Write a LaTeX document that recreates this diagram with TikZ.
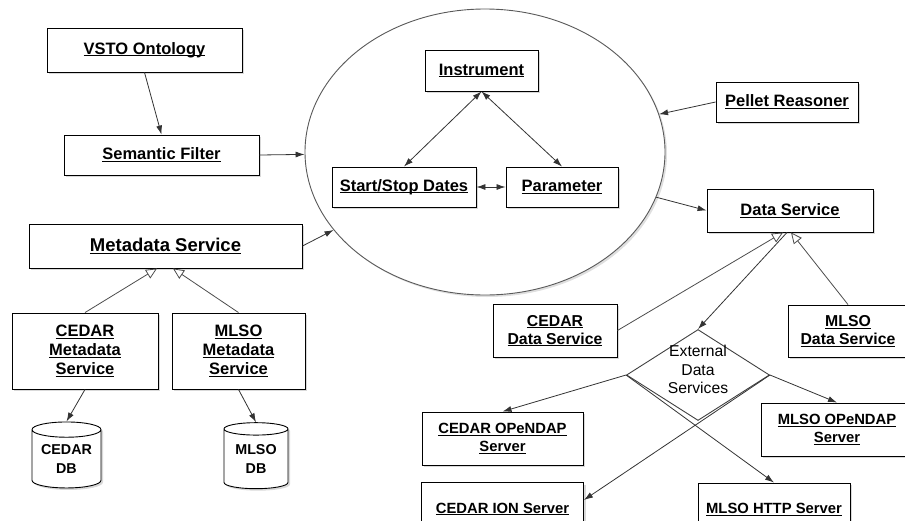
\documentclass[tikz,border=0pt]{standalone}
\usepackage{fontspec}
\setmainfont{Liberation Sans}
\usetikzlibrary{arrows.meta, positioning, shapes.geometric, shadows}

\newcommand{\udl}[1]{\setbox0\hbox{#1}\rlap{\rule[-2pt]{\wd0}{0.9pt}}\box0}

\tikzset{
  comp/.style={draw, fill=white, line width=0.9pt, align=center, inner sep=0pt,
    font=\fontsize{16.5}{19}\selectfont\bfseries,
    drop shadow={shadow xshift=2pt, shadow yshift=-2pt, opacity=0.3}},
  srv/.style={comp, font=\fontsize{14.8}{18}\selectfont\bfseries},
  dsv/.style={comp, font=\fontsize{15.8}{18}\selectfont\bfseries},
  db/.style={cylinder, shape border rotate=90, aspect=0.3, draw, fill=white,
    line width=0.9pt, align=center, inner sep=0pt,
    font=\fontsize{14.3}{19}\selectfont\bfseries,
    drop shadow={shadow xshift=2pt, shadow yshift=-2pt, opacity=0.3}},
  link/.style={black!80, line width=0.8pt, -{Latex[length=9pt,width=6pt]}},
  both/.style={link, {Latex[length=9pt,width=6pt]}-{Latex[length=9pt,width=6pt]}},
  isa/.style={black!70, line width=0.8pt, -{Triangle[open,length=11pt,width=10pt]}}
}

\begin{document}
\begin{tikzpicture}[x=1pt, y=-1pt, node distance=70.5pt, on grid]
  \useasboundingbox (0,0) rectangle (905,520);

  % query core
  \node[ellipse, draw=black!65, line width=0.9pt, fill=white, minimum width=360pt, minimum height=286pt,
        drop shadow={shadow xshift=2pt, shadow yshift=-2pt, opacity=0.25}] (core) at (485,152) {};
  \node[comp, minimum width=113pt, minimum height=41pt] (instr) at (481.5,70.5) {\udl{Instrument}};
  \node[comp, minimum width=144pt, minimum height=40pt] (dates) at (404,187)    {\udl{Start/Stop Dates}};
  \node[comp, minimum width=112pt, minimum height=40pt] (param) [right=158pt of dates] {\udl{Parameter}};

  % left side
  \node[comp, minimum width=195pt, minimum height=44pt] (vsto)   at (144.5,50)  {\udl{VSTO Ontology}};
  \node[comp, minimum width=195pt, minimum height=40pt] (filter) at (161.5,155) {\udl{Semantic Filter}};
  \node[comp, minimum width=273pt, minimum height=44pt, font=\fontsize{18.5}{21}\selectfont\bfseries]
        (meta) at (165.5,246) {\udl{Metadata Service}};
  \node[comp, minimum width=146pt, minimum height=76pt] (cmeta) at (85,351)    {\udl{CEDAR}\\\udl{Metadata}\\\udl{Service}};
  \node[comp, minimum width=133pt, minimum height=76pt] (mmeta) at (238.5,351) {\udl{MLSO}\\\udl{Metadata}\\\udl{Service}};
  \node[db, minimum width=69pt, minimum height=66pt]    (cdb) [below=108pt of cmeta, xshift=-18.5pt] {CEDAR\\DB};
  \node[db, minimum width=64pt, minimum height=66pt]    (mdb) [below=108pt of mmeta, xshift=17.5pt]  {MLSO\\DB};

  % right side
  \node[comp, minimum width=142pt, minimum height=40pt] (pellet) at (787,102)   {\udl{Pellet Reasoner}};
  \node[comp, minimum width=166pt, minimum height=43pt] (dsvc)   at (790,210.5) {\udl{Data Service}};
  \node[dsv, minimum width=124pt, minimum height=53pt]  (cds)    at (555,330.5) {\udl{CEDAR}\\\udl{Data Service}};
  \node[dsv, minimum width=120pt, minimum height=52pt]  (mds)    at (848,331)   {\udl{MLSO}\\\udl{Data Service}};
  \node[diamond, draw=black!75, line width=0.9pt, fill=white, inner sep=0pt,
        minimum width=143pt, minimum height=91pt, font=\fontsize{15.7}{18.7}\selectfont]
        (ext) at (698,375) {\makebox[0pt]{\smash{\begin{tabular}{@{}c@{}}External\\Data\\Services\end{tabular}}}};
  \node[srv, minimum width=161pt, minimum height=53pt] (copen) at (502.5,438.5) {\udl{CEDAR OPeNDAP}\\\udl{Server}};
  \node[srv, minimum width=162pt, minimum height=53pt] (cion)  [below=of copen]  {\udl{CEDAR ION Server}};
  \node[srv, minimum width=152pt, minimum height=53pt] (mopen) at (837,429.5)   {\udl{MLSO OPeNDAP}\\\udl{Server}};
  \node[srv, minimum width=152pt, minimum height=53pt] (mhttp) at (774,509.5)   {\udl{MLSO HTTP Server}};

  \path[link] (vsto.south) edge (filter.north)
        (filter.east) edge (core)
        (meta.east) edge (core)
        (pellet.west) edge (core)
        (core) edge (dsvc.west)
        (cmeta.south) edge (cdb.north)
        (mmeta.south) edge (mdb.north)
        ([xshift=-3pt]dsvc.south) edge (ext.north)
        (ext.west) edge (copen.north)
        (ext.west) edge (mhttp.north)
        (ext.east) edge (mopen.north)
        (ext.east) edge ([yshift=9pt]cion.east);
  \path[both] (instr.south) edge (dates.north)
        (instr.south) edge (param.north)
        (dates.east) edge (param.west);
  \path[isa] (cmeta.north) edge ([xshift=-8.5pt]meta.south)
        (mmeta.north) edge ([xshift=7.5pt]meta.south)
        (cds.east) edge ([xshift=-7pt]dsvc.south)
        (mds.north) edge ([xshift=1pt]dsvc.south);
\end{tikzpicture}
\end{document}
